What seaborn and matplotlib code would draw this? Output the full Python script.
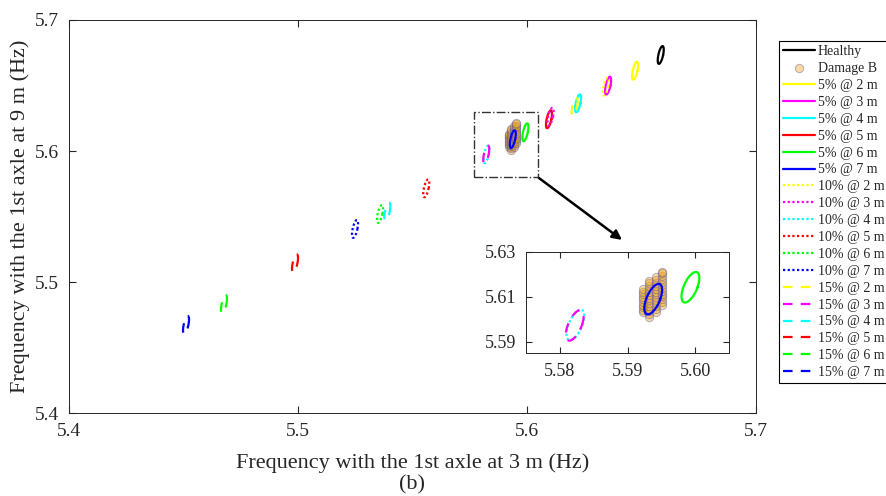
import numpy as np
import matplotlib
matplotlib.use("Agg")
import matplotlib.pyplot as plt
from matplotlib.patches import Rectangle
from matplotlib.ticker import FormatStrFormatter
import seaborn as sns

# First natural frequency (Hz): first axle at 3 m (x) and at 9 m (y)
healthy_f3 = 5.6584
healthy_f9 = 5.6733

locations = ["2 m", "3 m", "4 m", "5 m", "6 m", "7 m"]
severities = ["5%", "10%", "15%"]

f3_5pct = [5.6472, 5.6354, 5.6223, 5.6096, 5.5993, 5.5938]
f9_5pct = [5.6613, 5.6499, 5.6364, 5.6242, 5.6143, 5.6090]
f3_10pct = [5.6344, 5.6103, 5.5823, 5.5560, 5.5358, 5.5249]
f9_10pct = [5.6491, 5.6262, 5.5975, 5.5715, 5.5519, 5.5405]
f3_15pct = [5.6208, 5.5822, 5.5390, 5.4987, 5.4677, 5.4511]
f9_15pct = [5.6338, 5.5973, 5.5537, 5.5143, 5.4832, 5.4672]

# Damage B samples
damage_b_f3 = ([5.5923] * 10 + [5.5932] * 14 + [5.5942] * 13 + [5.5951] * 13)
damage_b_f9 = [
    5.6032, 5.6043, 5.6055, 5.6066, 5.6078, 5.6089, 5.6101, 5.6112, 5.6124, 5.6133,
    5.6010, 5.6022, 5.6035, 5.6047, 5.6060, 5.6072, 5.6085, 5.6097, 5.6110, 5.6122,
    5.6135, 5.6147, 5.6160, 5.6170,
    5.6033, 5.6046, 5.6059, 5.6072, 5.6085, 5.6098, 5.6111, 5.6124, 5.6137, 5.6150,
    5.6163, 5.6176, 5.6190,
    5.6063, 5.6076, 5.6089, 5.6102, 5.6115, 5.6128, 5.6141, 5.6154, 5.6167, 5.6180,
    5.6193, 5.6206, 5.6212,
]

severity_f3 = [f3_5pct, f3_10pct, f3_15pct]
severity_f9 = [f9_5pct, f9_10pct, f9_15pct]

location_colors = ["#ffff00", "#ff00ff", "#00ffff", "#ff0000", "#00ff00", "#0000ff"]
severity_styles = ["-", (0, (1, 1.1)), (0, (4.3, 3.7))]

# confidence-ellipse shape (Hz): x = cx + A cos t + B sin t, y = cy + C sin t
ELL_A, ELL_B, ELL_C = 0.00105, 0.0008, 0.0068
_t = np.linspace(0, 2 * np.pi, 160)


def ellipse_outline(cx, cy):
    return cx + ELL_A * np.cos(_t) + ELL_B * np.sin(_t), cy + ELL_C * np.sin(_t)


sns.set_style("ticks")
plt.rcParams["font.family"] = ["Liberation Serif", "DejaVu Serif"]

fig = plt.figure(figsize=(8.86, 4.96), dpi=100)
ax = fig.add_axes([69 / 886, 83 / 496, 687 / 886, 393 / 496])
axins = fig.add_axes([526 / 886, 143 / 496, 203 / 886, 101 / 496])

face_b = (0.93, 0.66, 0.12, 0.42)
edge_b = (0.36, 0.34, 0.66, 0.45)


def draw_family(axis):
    handles = []
    sns.scatterplot(x=damage_b_f3, y=damage_b_f9, ax=axis, s=36,
                    color=face_b, edgecolor=edge_b, linewidth=0.7, zorder=2,
                    legend=False)
    dmg_handle = axis.collections[-1]

    hx, hy = ellipse_outline(healthy_f3, healthy_f9)
    sns.lineplot(x=hx, y=hy, ax=axis, sort=False, estimator=None,
                 color="black", lw=1.6, zorder=3, legend=False)
    handles.append(("Healthy", axis.lines[-1]))
    handles.append(("Damage B", dmg_handle))

    for sev, xs, ys, style in zip(severities, severity_f3, severity_f9, severity_styles):
        for loc, cx, cy, col in zip(locations, xs, ys, location_colors):
            ex, ey = ellipse_outline(cx, cy)
            sns.lineplot(x=ex, y=ey, ax=axis, sort=False, estimator=None,
                         color=col, lw=1.6, linestyle=style, zorder=3,
                         legend=False)
            handles.append((f"{sev} @ {loc}", axis.lines[-1]))
    return handles


handles = draw_family(ax)
draw_family(axins)

# main axes
ax.set_xlim(5.4, 5.7)
ax.set_ylim(5.4, 5.7)
ax.set_xticks([5.4, 5.5, 5.6, 5.7])
ax.set_yticks([5.4, 5.5, 5.6, 5.7])
ax.xaxis.set_major_formatter(FormatStrFormatter("%.1f"))
ax.yaxis.set_major_formatter(FormatStrFormatter("%.1f"))
ax.tick_params(direction="in", length=5, width=0.8, top=True, right=True,
               labelsize=14, pad=7, colors="#262626")
ax.set_xlabel("Frequency with the 1st axle at 3 m (Hz)", fontsize=16, labelpad=10)
ax.set_ylabel("Frequency with the 1st axle at 9 m (Hz)", fontsize=16, labelpad=4)
for sp in ax.spines.values():
    sp.set_visible(True)
    sp.set_linewidth(0.7)
    sp.set_color("#262626")

# zoom box and pointer
ax.add_patch(Rectangle((5.577, 5.58), 0.028, 0.05, fill=False,
                       edgecolor="#333333", lw=1.0, linestyle="-.", zorder=4))
ax.annotate("", xy=(5.6415, 5.5321), xytext=(5.6052, 5.5794),
            arrowprops=dict(arrowstyle="-|>", color="black", lw=1.8,
                            mutation_scale=14, shrinkA=0, shrinkB=0))

# inset axes
axins.set_xlim(5.575, 5.605)
axins.set_ylim(5.585, 5.63)
axins.set_xticks([5.58, 5.59, 5.60])
axins.set_yticks([5.59, 5.61, 5.63])
axins.xaxis.set_major_formatter(FormatStrFormatter("%.2f"))
axins.yaxis.set_major_formatter(FormatStrFormatter("%.2f"))
axins.tick_params(direction="in", length=4, width=0.8, top=True, right=True,
                  labelsize=13, pad=7, colors="#262626")
for sp in axins.spines.values():
    sp.set_visible(True)
    sp.set_linewidth(0.7)
    sp.set_color("#262626")

fig.text(412 / 886, 1 - 485 / 496, "(b)", ha="center", va="center", fontsize=16)

leg = fig.legend([h for _, h in handles], [l for l, _ in handles],
                 loc="upper left", bbox_to_anchor=(779 / 886, 1 - 41 / 496),
                 frameon=True, fancybox=False, edgecolor="black", framealpha=1,
                 fontsize=10, handlelength=2.3, handletextpad=0.2,
                 labelspacing=0.28, borderpad=0.3, borderaxespad=0)
leg.get_frame().set_linewidth(0.8)

fig.savefig("out.png", dpi=100)
